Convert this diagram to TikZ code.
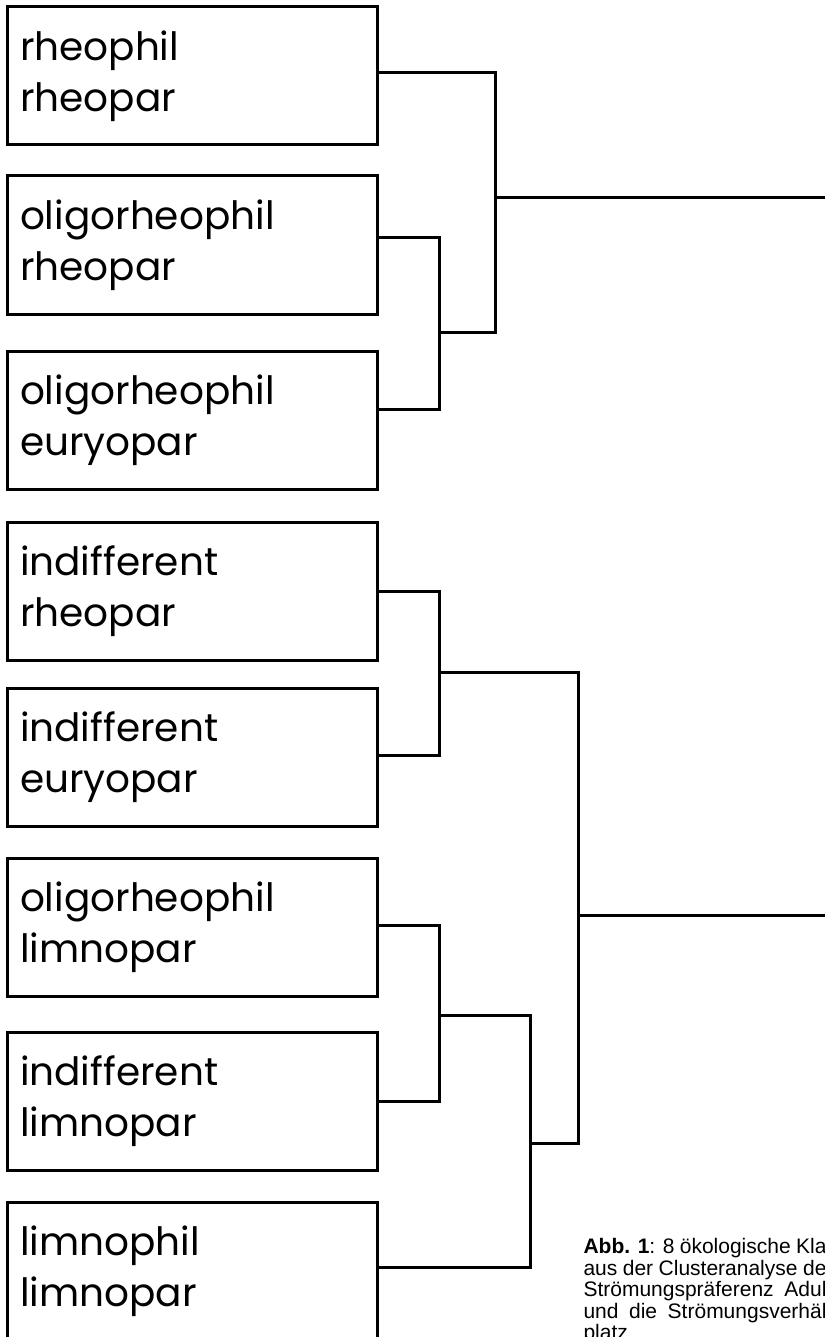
\documentclass[tikz,border=0pt]{standalone}
\usepackage{fontspec}
\setmainfont{Liberation Sans}
\newfontfamily\labelfont{Poppins}

\begin{document}
\begin{tikzpicture}[x=1pt,y=-1pt,line width=3pt,
  klasse/.style={draw,rectangle,minimum width=370pt,minimum height=138pt,
    inner xsep=13pt,text width=344pt,align=left,
    font=\labelfont\fontsize{39}{51}\selectfont}]
  \useasboundingbox (0,0) rectangle (824,1337);
  % klassen
  \node[klasse] (rr) at (192,76) {rheophil\\rheopar};
  \node[klasse] (or) at (192,245) {oligorheophil\\rheopar};
  \node[klasse] (oe) at (192,420) {oligorheophil\\euryopar};
  \node[klasse] (ir) at (192,591) {indifferent\\rheopar};
  \node[klasse] (ie) at (192,757) {indifferent\\euryopar};
  \node[klasse] (ol) at (192,927) {oligorheophil\\limnopar};
  \node[klasse] (il) at (192,1101) {indifferent\\limnopar};
  \node[klasse] (ll) at (192,1271) {limnophil\\limnopar};
  % verzweigungen
  \coordinate (v1) at (439,332);
  \coordinate (v2) at (495,198);
  \coordinate (v3) at (439,672);
  \coordinate (v4) at (439,1015);
  \coordinate (v5) at (530,1143);
  \coordinate (v6) at (578,915);
  \coordinate (o1) at (830,198);
  \coordinate (o2) at (830,915);
  \draw ([yshift=7pt]or.east) -| (v1) |- ([yshift=11pt]oe.east);
  \draw (v1) -| (v2) |- ([yshift=3pt]rr.east);
  \draw (v2) -- (o1);
  \draw (ir.east) -| (v3) |- ([yshift=2pt]ie.east);
  \draw ([yshift=2pt]ol.east) -| (v4) |- (il.east);
  \draw (v4) -| (v5) |- ([yshift=4pt]ll.east);
  \draw (v3) -| (v6) |- (v5);
  \draw (v6) -- (o2);
  % bildunterschrift
  \node[anchor=north west,align=left,inner sep=0pt,
    font=\fontsize{21}{21.5}\selectfont] (abb) at (582,1237)
    {\makebox[243pt][s]{\textbf{Abb. 1}: 8 ökologische Kla}\\
     \makebox[243pt][s]{aus der Clusteranalyse de}\\
     \makebox[243pt][s]{Strömungspräferenz Adul}\\
     \makebox[243pt][s]{und die Strömungsverhäl}\\
     platz};
\end{tikzpicture}
\end{document}
